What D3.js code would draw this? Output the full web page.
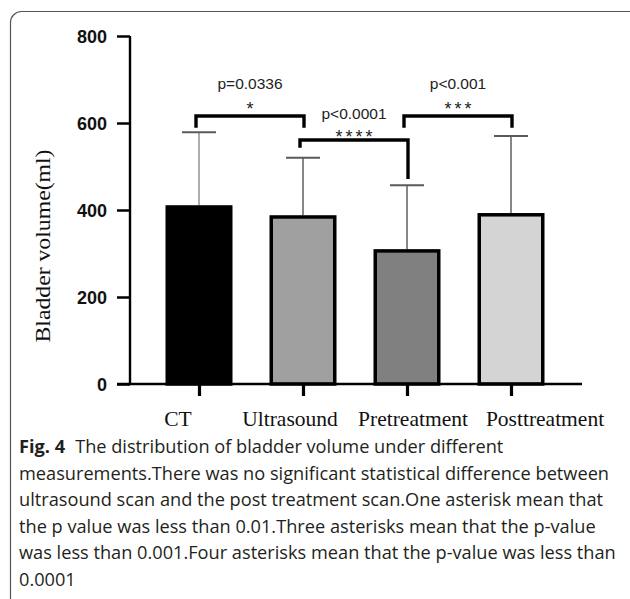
<!DOCTYPE html>
<html><head><meta charset="utf-8">
<script src="https://cdn.jsdelivr.net/npm/d3@7"></script>
<style>
html,body{margin:0;padding:0;background:#fff;}
svg{display:block;}
</style></head>
<body>
<svg id="chart" width="630" height="599"></svg>
<script>
const categories = ["CT", "Ultrasound", "Pretreatment", "Posttreatment"];
const means = [411, 388, 310, 393];
const errorTop = [579, 520, 457, 570];
const fills = ["#000000", "#a0a0a0", "#808080", "#d4d4d4"];
const yTicks = [0, 200, 400, 600, 800];
const compFrom = ["CT", "Ultrasound", "Pretreatment"];
const compTo = ["Ultrasound", "Pretreatment", "Posttreatment"];
const compP = ["p=0.0336", "p<0.0001", "p<0.001"];
const compStars = ["*", "****", "***"];
const compTop = [616, 561, 616];
const compLegFrom = [589, 543, 589];
const compLegTo = [589, 471, 589];
const yLabel = "Bladder volume(ml)";
const captionBold = "Fig. 4";
const captionLines = [
  "The distribution of bladder volume under different",
  "measurements.There was no significant statistical difference between",
  "ultrasound scan and the post treatment scan.One asterisk mean that",
  "the p value was less than 0.01.Three asterisks mean that the p-value",
  "was less than 0.001.Four asterisks mean that the p-value was less than",
  "0.0001"
];

const svg = d3.select("#chart");

// frame
svg.append("rect").attr("x", 10.5).attr("y", 11.5).attr("width", 660).attr("height", 620)
  .attr("rx", 11).attr("fill", "none").attr("stroke", "#555").attr("stroke-width", 1.2);

const y = d3.scaleLinear().domain([0, 800]).range([384, 36]);
const x = d3.scalePoint().domain(categories).range([199, 511]);
const barW = 67;
const capW = 34;

const g = svg.append("g");

// error bars
categories.forEach((c, i) => {
  g.append("line").attr("x1", x(c)).attr("x2", x(c)).attr("y1", y(means[i])).attr("y2", y(errorTop[i]))
    .attr("stroke", i === 0 ? "#9a9a9a" : "#6a6a6a").attr("stroke-width", 1.6);
  g.append("line").attr("x1", x(c) - capW / 2).attr("x2", x(c) + capW / 2).attr("y1", y(errorTop[i])).attr("y2", y(errorTop[i]))
    .attr("stroke", "#5a5a5a").attr("stroke-width", 2);
});

// bars
g.selectAll("rect.bar").data(categories).join("rect").attr("class", "bar")
  .attr("x", c => x(c) - barW / 2 + 1.75)
  .attr("y", (c, i) => y(means[i]) + 1.75)
  .attr("width", barW - 3.5)
  .attr("height", (c, i) => y(0) - y(means[i]) - 1.75)
  .attr("fill", (c, i) => fills[i])
  .attr("stroke", "#000").attr("stroke-width", 3.5);

// y axis
const yAxis = d3.axisLeft(y).tickValues(yTicks).tickSize(13).tickPadding(10).tickFormat(d3.format("d"));
const ya = svg.append("g").attr("transform", "translate(130,0)").call(yAxis);
ya.select(".domain").attr("stroke", "#000").attr("stroke-width", 2.4).attr("d", `M0,${y(800)}V${y(0)}`);
ya.selectAll(".tick line").attr("stroke", "#000").attr("stroke-width", 2.5);
ya.selectAll(".tick text").attr("font-family", "Liberation Sans, Arial, sans-serif").attr("font-weight", "bold")
  .attr("font-size", 18).attr("fill", "#111").attr("dy", "0.35em");

// x axis
const xAxis = d3.axisBottom(x).tickSize(12).tickFormat("");
const xa = svg.append("g").attr("transform", `translate(0,${y(0)})`).call(xAxis);
xa.select(".domain").attr("stroke", "#000").attr("stroke-width", 2.5).attr("d", "M117,0H582");
xa.selectAll(".tick line").attr("stroke", "#000").attr("stroke-width", 3.2);

// category labels (serif)
const labelShift = [-21, -13, 6, 34];
svg.append("g").selectAll("text").data(categories).join("text")
  .attr("x", (c, i) => x(c) + labelShift[i]).attr("y", 426)
  .attr("text-anchor", "middle")
  .attr("font-family", "Liberation Serif, Times New Roman, serif").attr("font-size", 21.5).attr("fill", "#111")
  .text(c => c);

// y label
svg.append("text").attr("transform", "translate(50,246) rotate(-90)")
  .attr("text-anchor", "middle")
  .attr("font-family", "Liberation Serif, Times New Roman, serif").attr("font-size", 21).attr("fill", "#111")
  .attr("textLength", 193).attr("lengthAdjust", "spacingAndGlyphs")
  .text(yLabel);

// comparison brackets
compFrom.forEach((f, i) => {
  const x1 = x(f) - 3, x2 = x(compTo[i]) + 1;
  const yt = y(compTop[i]);
  svg.append("path")
    .attr("d", `M${x1},${y(compLegFrom[i])}V${yt}H${x2}V${y(compLegTo[i])}`)
    .attr("fill", "none").attr("stroke", "#000").attr("stroke-width", 3.4);
  const cx = (x1 + x2) / 2;
  const pOff = i === 1 ? -21 : -27;
  svg.append("text").attr("x", cx).attr("y", yt + pOff).attr("text-anchor", "middle")
    .attr("font-family", "Liberation Sans, Arial, sans-serif").attr("font-size", 15.5).attr("fill", "#222")
    .text(compP[i]);
  svg.append("text").attr("x", cx + 1.5).attr("y", yt + (i === 1 ? 3 : -1)).attr("text-anchor", "middle")
    .attr("font-family", "Liberation Sans, Arial, sans-serif").attr("font-size", 18).attr("fill", "#222")
    .attr("letter-spacing", 3)
    .text(compStars[i]);
});

// caption
const cap = svg.append("g").attr("font-family", "Open Sans, Noto Sans, sans-serif").attr("font-size", 18.2).attr("fill", "#231f20");
captionLines.forEach((line, i) => {
  const t = cap.append("text").attr("x", 19).attr("y", 453 + i * 26.6);
  if (i === 0) {
    t.append("tspan").attr("font-weight", "bold").text(captionBold);
    t.append("tspan").attr("dx", 10).text(line);
  } else {
    t.append("tspan").text(line);
  }
});
</script>
</body></html>
